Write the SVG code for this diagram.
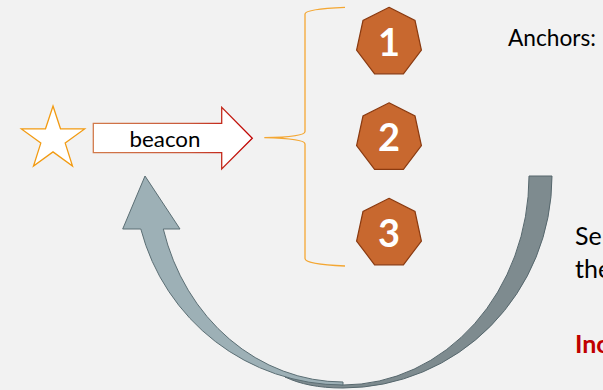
<svg xmlns="http://www.w3.org/2000/svg" width="603" height="390" viewBox="0 0 603 390">
  <defs>
    <style>
      .hept { fill: #C8682F; stroke: #8A3A10; stroke-width: 1.2; }
      .num { font-family: Lato, "Open Sans", sans-serif; font-weight: bold; font-size: 38px; fill: #FFFFFF; text-anchor: middle; }
      .label { font-family: Lato, "Liberation Sans", sans-serif; fill: #000000; }
      .brace { fill: none; stroke: #F4A733; stroke-width: 1.3; }
    </style>
    <linearGradient id="beaconStroke" x1="0" y1="0" x2="1" y2="0">
      <stop offset="0" stop-color="#D27A4A"/>
      <stop offset="0.6" stop-color="#C9573A"/>
      <stop offset="1" stop-color="#C00000"/>
    </linearGradient>
    <polygon id="hep" points="0,-35 26,-21.8 32.4,7.8 14.4,31.5 -14.4,31.5 -32.4,7.8 -26,-21.8"/>
  </defs>

  <rect x="0" y="0" width="603" height="390" fill="#F2F2F2"/>

  <!-- connectors: return arrow, brace -->
  <g id="connectors">
    <!-- back segment of the curved arrow (darker), tapering under the front segment -->
    <path d="M552,176 A209,212 0 0 1 343,388 C318,388 300,384 285,377 L343,385 A186,209 0 0 0 529,176 Z" fill="#7E8B8F" stroke="#56676D" stroke-width="1"/>
    <!-- front segment with arrowhead (lighter) -->
    <path d="M343,385 A209,209 0 0 1 140.8,229 L122.7,229 L145,176 L180,229 L163.3,229 A186,206 0 0 0 343,382 Z" fill="#9DB0B6" stroke="#5B6E74" stroke-width="1"/>
    <!-- brace grouping the anchors -->
    <path class="brace" d="M345,7.3 C322,8.3 305,10 305,14 L305,131.5 C305,135.5 288,137.3 264.3,137.7 C288,138.3 305,140 305,144 L305,258.5 C305,262.5 322,265 345,266"/>
  </g>

  <g id="star">
    <polygon points="53,106 60.5,128.8 84.6,128.9 65.2,143.1 72.5,166 53,151.9 33.5,166 40.8,143.1 21.4,128.9 45.5,128.8" fill="#FFFFFF" stroke="#F29B12" stroke-width="1.3"/>
  </g>

  <g id="beacon">
    <polygon points="93.3,123.3 221.7,123.3 221.7,107.3 252.3,138.3 221.7,169 221.7,152.7 93.3,152.7" fill="#FFFFFF" stroke="url(#beaconStroke)" stroke-width="1.3"/>
    <text class="label" x="165" y="146.5" font-size="22" text-anchor="middle" textLength="71" lengthAdjust="spacingAndGlyphs">beacon</text>
  </g>

  <g id="anchor1">
    <use href="#hep" class="hept" x="389" y="42.3"/>
    <text class="num" x="389" y="55.5">1</text>
  </g>
  <g id="anchor2">
    <use href="#hep" class="hept" x="389" y="137.8"/>
    <text class="num" x="389" y="151">2</text>
  </g>
  <g id="anchor3">
    <use href="#hep" class="hept" x="389" y="233.3"/>
    <text class="num" x="389" y="246.5">3</text>
  </g>

  <g id="notes">
    <text class="label" x="508" y="45.5" font-size="23" textLength="88" lengthAdjust="spacingAndGlyphs">Anchors:</text>
    <text class="label" x="575" y="245" font-size="25">Ser</text>
    <text class="label" x="575" y="278" font-size="25">the</text>
    <text class="label" x="575" y="353" font-size="25" font-weight="bold" style="fill:#C00000">Inc</text>
  </g>
</svg>
